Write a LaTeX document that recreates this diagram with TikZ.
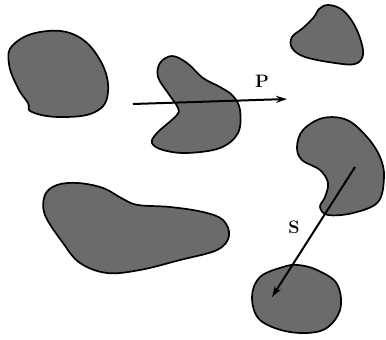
\documentclass[tikz,border=0pt]{standalone}
\usetikzlibrary{arrows.meta}
\begin{document}
\begin{tikzpicture}[x=1pt,y=-1pt,
  blob/.style={draw=black,line width=1.7pt,fill=black!58},
  vec/.style={line width=2pt,-{Stealth[length=11pt,width=7pt]}},
  lbl/.style={font=\fontsize{18}{18}\selectfont\bfseries,inner sep=0pt}]
\useasboundingbox (0,0) rectangle (386,340);
% blob 1 top left
\draw[blob] plot[smooth cycle,tension=0.7] coordinates {(13,45) (40,32) (75,35) (100,60) (108,92) (95,112) (60,117) (32,112) (28,103) (18,88) (9,64)};
% blob 2 middle
\draw[blob] plot[smooth cycle,tension=0.6] coordinates {(172,56) (160,63) (158,77) (168,93) (178,108) (176,116) (157,133) (152,143) (163,150) (187,153) (220,148) (238,133) (240,110) (233,96) (220,87) (203,78) (187,63)};
% blob 3 top right
\draw[blob] plot[smooth cycle,tension=0.6] coordinates {(328,5) (341,9) (352,21) (360,38) (363,55) (355,64) (335,63) (305,57) (292,48) (292,37) (303,28) (314,17) (319,9)};
% blob 4 right
\draw[blob] plot[smooth cycle,tension=0.6] coordinates {(323,118) (303,130) (297,147) (302,160) (320,170) (328,183) (325,197) (320,207) (328,215) (353,213) (378,202) (384,177) (380,157) (367,137) (347,120)};
% blob 5 bottom right
\draw[blob] plot[smooth cycle,tension=0.6] coordinates {(283,267) (260,277) (252,297) (260,320) (290,332) (323,330) (340,310) (337,284) (317,270) (298,265)};
% blob 6 bottom left
\draw[blob] plot[smooth cycle,tension=0.6] coordinates {(57,185) (78,183) (103,188) (123,199) (138,205) (170,207) (203,212) (223,220) (229,236) (217,250) (180,260) (140,270) (107,273) (80,263) (63,243) (45,215) (45,195)};
% arrows
\coordinate (p0) at (133,104);
\coordinate (p1) at (287,99);
\coordinate (s0) at (355,167);
\coordinate (s1) at (272,297);
\draw[vec] (p0) -- (p1);
\draw[vec] (s0) -- (s1);
\node[lbl] (P) at (262,81) {P};
\node[lbl] (S) at (294,227) {S};
\end{tikzpicture}
\end{document}
